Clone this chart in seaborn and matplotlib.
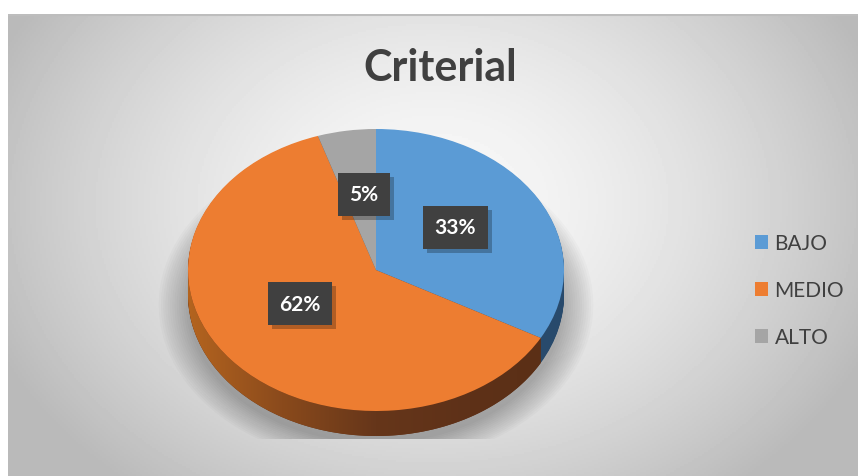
import numpy as np
import matplotlib
matplotlib.use("Agg")
import matplotlib.pyplot as plt
import matplotlib.patches as patches
import matplotlib.patheffects as pe
from matplotlib.colors import LinearSegmentedColormap
import seaborn as sns

# datos
categorias = ["BAJO", "MEDIO", "ALTO"]
porcentajes = [33, 62, 5]
colores = ["#5b9bd5", "#ed7d31", "#a5a5a5"]
colores_lado = ["#284a6c", "#62331a", "#5a5a5a"]
titulo = "Criterial"

sns.set_theme(style="white")
plt.rcParams['font.family'] = ['Lato', 'DejaVu Sans']

W, H = 858, 477
fig = plt.figure(figsize=(W / 100, H / 100), dpi=100)
fig.patch.set_facecolor("white")

# fondo con degradado radial
bg = fig.add_axes([8 / W, 0, 850 / W, 462 / H], zorder=0)
xx, yy = np.meshgrid(np.linspace(0, 850, 425), np.linspace(0, 462, 231))
r = np.sqrt(((xx - 425) / 430) ** 2 + ((yy - 190) / 330) ** 2)
val = 0.975 - 0.21 * np.clip(r, 0, 1.1) ** 1.6
bg.imshow(val, cmap="gray", vmin=0, vmax=1, extent=[0, 850, 462, 0], aspect="auto")
bg.axhline(1, color="#bdbdbd", lw=1.5)
bg.set_axis_off()

# eje del pastel (elipse: radios 188 x 141 px)
cx, cy = 376, H - 271
rx, ry = 188, 141
lim = 1.2
ax = fig.add_axes([(cx - rx * lim) / W, (cy - ry * lim) / H,
                   2 * rx * lim / W, 2 * ry * lim / H], zorder=1)
ax.patch.set_alpha(0)

depth = 25 / ry

# sombra suave
for i in range(14):
    s = 1 + 0.012 * i
    ax.add_patch(patches.Ellipse((0, -depth - 0.07), 2 * s, 2 * s * 0.98,
                                 color="black", alpha=0.02, lw=0, zorder=0))

# lados del pastel 3D (capas apiladas)
n_capas = 30
for k in range(n_capas):
    yc = -depth + depth * k / n_capas
    ax.pie(porcentajes, colors=colores_lado, startangle=90, counterclock=False,
           center=(0, yc), wedgeprops=dict(linewidth=0))

# degradado del lado naranja (frente visible)
fin_bajo = 90 - 360 * porcentajes[0] / 100
t = np.radians(np.linspace(180, 360 + fin_bajo, 200))
arriba = np.column_stack([np.cos(t), np.sin(t)])
abajo = np.column_stack([np.cos(t), np.sin(t) - depth])[::-1]
clip = patches.Polygon(np.vstack([arriba, abajo]), closed=True,
                       transform=ax.transData, fc="none", ec="none")
ax.add_patch(clip)
cmap_lado = LinearSegmentedColormap.from_list(
    "lado", ["#b4641f", "#8a4a1c", "#66361a", "#5e3118", "#5a2f16"])
grad = np.linspace(0, 1, 256).reshape(1, -1)
im = ax.imshow(grad, cmap=cmap_lado, extent=[-1, 1, -1 - depth - 0.02, 0],
               aspect="auto", zorder=1.5)
im.set_clip_path(clip)

# cara superior
wedges, textos, autotextos = ax.pie(
    porcentajes, colors=colores, startangle=90, counterclock=False,
    autopct="%1.0f%%", pctdistance=0.52, wedgeprops=dict(linewidth=0, zorder=2),
    textprops=dict(color="white", fontsize=15, fontweight="bold"))

# ajuste fino de las etiquetas (distancia y giro respecto al centro del sector)
distancias = [0.52, 0.47, 0.54]
giros = [5, -9, -2]
for w, t_, d, g in zip(wedges, autotextos, distancias, giros):
    ang = np.radians((w.theta1 + w.theta2) / 2 + g)
    t_.set_position((d * np.cos(ang), d * np.sin(ang)))
    t_.set_bbox(dict(boxstyle="square,pad=0.55", fc="#404040", ec="none"))
    t_.get_bbox_patch().set_path_effects(
        [pe.SimplePatchShadow(offset=(3, -3), shadow_rgbFace="black", alpha=0.25),
         pe.Normal()])
    t_.set_zorder(10)

ax.set_aspect("auto")
ax.set_xlim(-lim, lim)
ax.set_ylim(-lim, lim)
ax.set_axis_off()

# titulo
fig.text(440 / W, (H - 68) / H, titulo, ha="center", va="center",
         fontsize=31, fontweight="bold", color="#404040")

# leyenda
fig.legend(wedges, categorias, loc="center left",
           bbox_to_anchor=(736 / W, (H - 291) / H), frameon=False,
           fontsize=15, labelcolor="#404040", handlelength=0.65, handleheight=0.65,
           handletextpad=0.3, labelspacing=1.3)

fig.savefig("out.png", dpi=100)
